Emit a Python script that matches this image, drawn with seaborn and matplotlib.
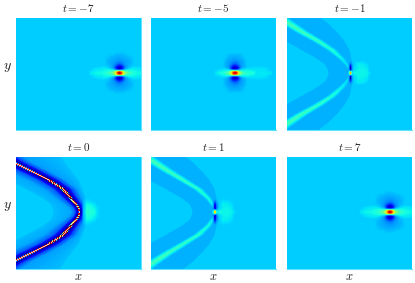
import numpy as np
import matplotlib
matplotlib.use('Agg')
import matplotlib.pyplot as plt
import seaborn as sns

plt.rcParams['mathtext.fontset'] = 'cm'

N_ROWS, N_COLS = 112, 125
BG = 0.325

t_labels = ['-7', '-5', '-1', '0', '1', '7']

# lump far from the line soliton (t = -7 and t = 7), mirrored left/right
far_dx = [0, 2, 4, 6, 9, 12, 15, 18, 24, 29, 31]
far_dy = [0.5, 1.5, 2.5, 3.5, 4.5, 5.5, 7, 9, 11, 14, 17, 19, 21]
far_vals = [
    [.95, .85, .62, .50, .44, .40, .38, .37, .365, .35, .325],
    [.82, .74, .55, .46, .41, .385, .375, .365, .36, .345, .325],
    [.45, .44, .42, .40, .38, .375, .37, .36, .355, .335, .325],
    [.20, .23, .28, .33, .36, .365, .36, .355, .35, .325, .325],
    [.07, .11, .21, .29, .33, .35, .355, .35, .345, .325, .325],
    [.04, .09, .19, .27, .31, .335, .35, .345, .33, .325, .325],
    [.13, .16, .22, .27, .30, .32, .325, .325, .325, .325, .325],
    [.21, .23, .26, .28, .295, .31, .325, .325, .325, .325, .325],
    [.26, .265, .275, .285, .295, .305, .325, .325, .325, .325, .325],
    [.285, .285, .29, .295, .30, .31, .325, .325, .325, .325, .325],
    [.30, .30, .30, .305, .31, .325, .325, .325, .325, .325, .325],
    [.31, .31, .31, .325, .325, .325, .325, .325, .325, .325, .325],
    [.325, .325, .325, .325, .325, .325, .325, .325, .325, .325, .325],
]

# lump at t = -5, mirrored, with the long plateau on its right added after
near_dx = [0, 2, 4, 6, 8, 10, 12, 15, 19, 21]
near_dy = [0.5, 1.5, 2.5, 3.5, 4.5, 5.5, 7, 9, 12, 15, 18, 20]
near_vals = [
    [.95, .85, .62, .48, .43, .40, .38, .37, .35, .325],
    [.82, .74, .55, .44, .40, .385, .37, .36, .345, .325],
    [.45, .44, .42, .38, .37, .365, .36, .35, .335, .325],
    [.20, .23, .28, .33, .345, .35, .35, .34, .325, .325],
    [.07, .11, .21, .29, .32, .33, .34, .33, .325, .325],
    [.04, .09, .19, .27, .30, .315, .325, .325, .325, .325],
    [.13, .16, .22, .27, .29, .30, .325, .325, .325, .325],
    [.21, .23, .26, .28, .29, .305, .325, .325, .325, .325],
    [.27, .27, .28, .285, .295, .31, .325, .325, .325, .325],
    [.29, .29, .295, .30, .305, .325, .325, .325, .325, .325],
    [.305, .305, .305, .31, .325, .325, .325, .325, .325, .325],
    [.325, .325, .325, .325, .325, .325, .325, .325, .325, .325],
]
plateau_dx = [9, 12, 20, 30, 36, 38]
plateau_dy = [0.5, 3, 5, 7]
plateau_vals = [
    [0, .01, .025, .03, .025, 0],
    [0, .01, .025, .025, 0, 0],
    [0, .005, .02, .015, 0, 0],
    [0, 0, 0, 0, 0, 0],
]

# soliton arcs: one entry per distance from the centre line
arc_dy = [0, 4, 8, 14, 23, 32, 41, 50, 56]

m1_crest = [63.5, 62, 60, 55, 45, 31, 15, 1, -8]
m1_inner = [42, 41, 39, 31, 15, -1, -22, -45, -60]
m1_outer = [66, 66, 65.5, 64, 62, 57, 49.5, 40, 32]
m1_half = [1, 1.5, 2.5, 4, 5.5, 6.5, 7.5, 8.5, 9]
m1_peak = [.33, .33, .35, .37, .40, .42, .43, .44, .44]

p1_crest = [64, 63, 61, 57, 47, 32, 17, 3, -6]
p1_inner = [42, 41, 39, 31, 15, -1, -22, -45, -60]
p1_outer = [67, 67, 66.5, 65, 63, 58, 50, 41, 33]
p1_half = [1, 1.5, 2.5, 4, 5.5, 6.5, 7.5, 8.5, 9]
p1_peak = [.33, .35, .37, .39, .41, .42, .43, .44, .44]

z_crest = [63.5, 62.5, 60, 54.5, 47, 33, 15, -3, -12]
z_inner = [38, 37, 35, 27, 10, -8, -28, -50, -60]
z_outer = [70, 70, 70, 69, 66, 62, 55, 48, 44]
z_width = [.6, .7, .9, 1.1, 1.4, 1.6, 1.8, 1.8, 1.8]
z_off = [-14, -7, -3.5, -1.5, -1.1, 0, 1.1, 1.5, 3.5, 6, 10]
z_val = [.29, .22, .08, .02, .88, 1.06, .88, .02, .08, .2, .28]

# corrections around the arc apex
m1_apex_dx = [-3, -1.5, -0.7, 0, 0.7, 1.5, 3, 8, 13, 17, 19, 21]
m1_apex_dy = [0.5, 1.5, 3, 5, 8, 10, 12]
m1_apex = [
    [0, .06, .25, .40, .25, .06, .04, .04, .04, .035, .02, 0],
    [0, .03, .12, .20, .12, .03, .03, .04, .04, .035, .01, 0],
    [0, -.02, -.12, -.22, -.12, -.02, .02, .04, .04, .03, 0, 0],
    [0, -.03, -.15, -.25, -.15, -.03, .01, .035, .035, .025, 0, 0],
    [0, -.02, -.08, -.12, -.08, -.02, 0, .035, .03, .015, 0, 0],
    [0, 0, -.02, -.04, -.02, 0, 0, .03, .02, 0, 0, 0],
    [0, 0, 0, 0, 0, 0, 0, 0, 0, 0, 0, 0],
]
p1_apex_dx = [-3, -1.5, -0.7, 0, 0.7, 1.5, 3, 8, 13, 17, 19, 21]
p1_apex_dy = [0.5, 1.5, 3, 5, 8, 11, 13]
p1_apex = [
    [0, .10, .30, .50, .30, .10, .05, .04, .04, .035, .02, 0],
    [0, .05, .15, .25, .15, .05, .04, .04, .04, .035, .01, 0],
    [0, -.05, -.14, -.2, -.14, -.05, .01, .04, .04, .03, 0, 0],
    [0, -.08, -.2, -.26, -.2, -.08, -.01, .035, .035, .025, 0, 0],
    [0, -.05, -.12, -.16, -.12, -.05, -.01, .035, .03, .015, 0, 0],
    [0, -.01, -.04, -.06, -.04, -.01, 0, .02, .015, 0, 0, 0],
    [0, 0, 0, 0, 0, 0, 0, 0, 0, 0, 0, 0],
]
z_apex_dx = [2, 4, 6, 10, 15, 18, 21]
z_apex_dy = [0.5, 4, 8, 11, 14]
z_apex = [
    [0, .09, .08, .07, .05, .02, 0],
    [0, .08, .07, .06, .04, .015, 0],
    [0, .05, .05, .04, .02, 0, 0],
    [0, .02, .02, .015, 0, 0, 0],
    [0, 0, 0, 0, 0, 0, 0],
]


def dist_rows():
    return np.abs(np.arange(N_ROWS) + 0.5 - 55)


def from_table(cols, dxs, dys, vals):
    # resample a table
    by_col = np.array([np.interp(cols, dxs, row, left=row[0], right=row[-1]) for row in vals])
    out = np.zeros((N_ROWS, N_COLS))
    for j in range(N_COLS):
        out[:, j] = np.interp(dist_rows(), dys, by_col[:, j])
    return out


def lump(cx, dxs, dys, vals):
    return from_table(np.abs(np.arange(N_COLS) + 0.5 - cx), dxs, dys, vals)


def patch(cx, dxs, dys, vals):
    return from_table(np.arange(N_COLS) + 0.5 - cx, dxs, dys, vals)


def band_field(crest, inner, outer, half, peak):
    out = np.zeros((N_ROWS, N_COLS))
    cols = np.arange(N_COLS) + 0.5
    for i, d in enumerate(dist_rows()):
        c = np.interp(d, arc_dy, crest)
        a = np.interp(d, arc_dy, inner)
        b = np.interp(d, arc_dy, outer)
        h = np.interp(d, arc_dy, half)
        p = np.interp(d, arc_dy, peak)
        out[i] = np.interp(cols, [a - 1, a, c - h, c, c + h, b, b + 1],
                           [BG, .30, .30, p, .30, .30, BG])
    return out


def soliton_field():
    out = np.zeros((N_ROWS, N_COLS))
    cols = np.arange(N_COLS) + 0.5
    for i, d in enumerate(dist_rows()):
        c = np.interp(d, arc_dy, z_crest)
        a = np.interp(d, arc_dy, z_inner)
        b = np.interp(d, arc_dy, z_outer)
        s = np.interp(d, arc_dy, z_width)
        xs = [a - 1, a] + [c + s * o for o in z_off] + [b, b + 1]
        vs = [BG, .31] + z_val + [.31, BG]
        out[i] = np.interp(cols, xs, vs)
    return out


fields = [
    lump(103.5, far_dx, far_dy, far_vals),
    lump(84, near_dx, near_dy, near_vals) + patch(84, plateau_dx, plateau_dy, plateau_vals),
    band_field(m1_crest, m1_inner, m1_outer, m1_half, m1_peak)
    + patch(63.5, m1_apex_dx, m1_apex_dy, m1_apex),
    soliton_field() + patch(63.5, z_apex_dx, z_apex_dy, z_apex),
    band_field(p1_crest, p1_inner, p1_outer, p1_half, p1_peak)
    + patch(64, p1_apex_dx, p1_apex_dy, p1_apex),
    lump(103, far_dx, far_dy, far_vals),
]

cmap = plt.get_cmap('jet').with_extremes(over='#d8d0c0')

W, H = 415, 283
fig = plt.figure(figsize=(W / 100, H / 100), dpi=100)
lefts = [16, 151, 287, 16, 151, 287]
tops = [18, 18, 18, 157, 157, 157]

for k, field in enumerate(fields):
    ax = fig.add_axes([lefts[k] / W, 1 - (tops[k] + N_ROWS) / H, N_COLS / W, N_ROWS / H])
    sns.heatmap(field, ax=ax, cmap=cmap, vmin=0, vmax=1, cbar=False,
                xticklabels=False, yticklabels=False)
    ax.set_title('$t=' + t_labels[k] + '$', fontsize=8, pad=4, color='#222222')
    for side in ['top', 'left', 'right']:
        ax.spines[side].set_visible(False)
    ax.spines['bottom'].set_visible(True)
    ax.spines['bottom'].set_color('#5fe3ff')
    ax.spines['bottom'].set_linewidth(0.8)
    if k in (0, 3):
        ax.spines['right'].set_visible(True)
        ax.spines['right'].set_color('#5fe3ff')
        ax.spines['right'].set_linewidth(0.8)
    if k % 3 == 0:
        ax.set_ylabel('$y$', fontsize=10, rotation=0, labelpad=6, color='#222222')
    if k >= 3:
        ax.set_xlabel('$x$', fontsize=9, labelpad=1, color='#222222')

fig.savefig('out.png', dpi=100)
plt.close()
